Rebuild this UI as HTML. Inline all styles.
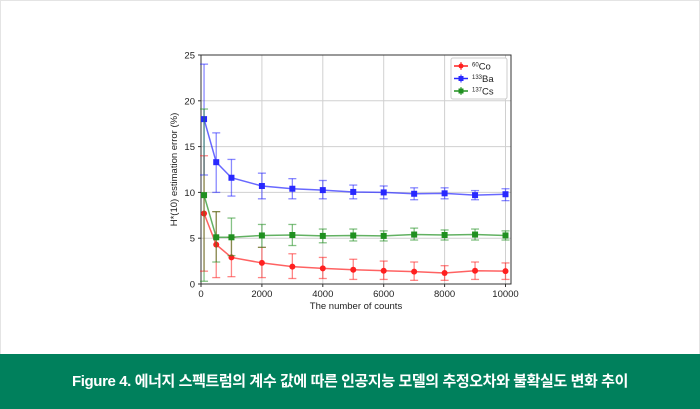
<!DOCTYPE html>
<html><head><meta charset="utf-8"><style>
body{margin:0;width:700px;height:409px;overflow:hidden;background:#fff;font-family:"Liberation Sans","DejaVu Sans",sans-serif}
#frame{position:absolute;left:0;top:0;width:698px;height:354px;border:1px solid #e4e4e4;border-bottom:none;background:#fff}
#cap{position:absolute;left:0;top:354px;width:700px;height:55px;background:#00805c;color:#fff;font:bold 15px "Liberation Sans","Noto Sans CJK KR",sans-serif;text-align:center;line-height:55px;letter-spacing:-0.4px}
svg{position:absolute;left:0;top:0}
</style></head><body>
<div id="frame"></div>
<svg id="chart" width="700" height="354"></svg>
<div id="cap">Figure 4. 에너지 스펙트럼의 계수 값에 따른 인공지능 모델의 추정오차와 불확실도 변화 추이</div>
<script>
const counts=[100,500,1000,2000,3000,4000,5000,6000,7000,8000,9000,10000];
const coVal=[7.7,4.3,2.9,2.3,1.9,1.7,1.55,1.45,1.35,1.2,1.45,1.4];
const coLo=[1.4,0.7,0.8,0.7,0.6,0.6,0.5,0.5,0.4,0.4,0.5,0.5];
const coHi=[14,7.9,5.1,4.0,3.3,2.9,2.7,2.5,2.4,2.0,2.4,2.3];
const baVal=[18,13.3,11.6,10.7,10.4,10.25,10.05,10,9.85,9.9,9.7,9.8];
const baLo=[11.9,10,9.6,9.3,9.3,9.3,9.3,9.3,9.2,9.3,9.2,9.1];
const baHi=[24,16.5,13.6,12.1,11.5,11.3,10.8,10.7,10.5,10.5,10.2,10.4];
const csVal=[9.7,5.1,5.1,5.3,5.35,5.25,5.3,5.25,5.4,5.35,5.4,5.3];
const csLo=[0.3,2.4,3.1,4.0,4.2,4.5,4.7,4.7,4.8,4.8,4.8,4.8];
const csHi=[19.1,7.9,7.2,6.5,6.5,6.0,6.0,5.8,6.1,5.9,6.0,5.8];
const xTicks=[0,2000,4000,6000,8000,10000];
const yTicks=[0,5,10,15,20,25];
const L=201,R=511,T=55,B=284;
const xs=v=>L+v/10000*(505.5-L);
const ys=v=>B-v/25*(B-T);
const svg=document.getElementById('chart');
const NS='http://www.w3.org/2000/svg';
function mk(tag,at,parent){const e=document.createElementNS(NS,tag);for(const k in at)e.setAttribute(k,at[k]);(parent||svg).appendChild(e);return e;}
xTicks.forEach(t=>{
 const g=mk('line',{x1:xs(t),x2:xs(t),y1:T,y2:B,stroke:'#d0d0d0','stroke-width':1});
 
 
 const tl=mk('text',{x:xs(t),y:B+13,'text-anchor':'middle','font-size':9.5,fill:'#222'});tl.textContent=t;
 
 
 mk('line',{x1:xs(t),x2:xs(t),y1:B,y2:B+3,stroke:'#333'});
});
yTicks.forEach(t=>{
 const g=mk('line',{x1:L,x2:R,y1:ys(t),y2:ys(t),stroke:'#d0d0d0','stroke-width':1});
 
 
 const tl=mk('text',{x:L-6,y:ys(t)+3.5,'text-anchor':'end','font-size':9.5,fill:'#222'});tl.textContent=t;
 
 
 mk('line',{x1:L-3,x2:L,y1:ys(t),y2:ys(t),stroke:'#333'});
});
const box=mk('rect',{x:L,y:T,width:R-L,height:B-T,fill:'none',stroke:'#333','stroke-width':1});


const xt=mk('text',{x:(L+R)/2,y:309,'text-anchor':'middle','font-size':9.5,fill:'#222'});xt.textContent='The number of counts';


const yt=mk('text',{x:0,y:0,'text-anchor':'middle','font-size':9.5,fill:'#222',transform:`translate(177,${(T+B)/2}) rotate(-90)`});yt.textContent='H*(10) estimation error (%)';


function series(vals,lo,hi,color,name,square){
 const g=mk('g',{});
 
 
 counts.forEach((c,i)=>{
  const x=xs(c);
  mk('line',{x1:x,x2:x,y1:ys(lo[i]),y2:ys(hi[i]),stroke:color,'stroke-opacity':0.55,'stroke-width':1.3},g);
  mk('line',{x1:x-4,x2:x+4,y1:ys(lo[i]),y2:ys(lo[i]),stroke:color,'stroke-opacity':0.55,'stroke-width':1.3},g);
  mk('line',{x1:x-4,x2:x+4,y1:ys(hi[i]),y2:ys(hi[i]),stroke:color,'stroke-opacity':0.55,'stroke-width':1.3},g);
 });
 mk('polyline',{points:counts.map((c,i)=>xs(c)+','+ys(vals[i])).join(' '),fill:'none',stroke:color,'stroke-opacity':0.7,'stroke-width':1.5},g);
 counts.forEach((c,i)=>{
  const m=square?mk('rect',{x:xs(c)-3,y:ys(vals[i])-3,width:6,height:6,fill:color},g):mk('circle',{cx:xs(c),cy:ys(vals[i]),r:3,fill:color},g);
  
  
 });
}
series(coVal,coLo,coHi,'#ff2020','co60',false);
series(baVal,baLo,baHi,'#2828ff','ba133',true);
series(csVal,csLo,csHi,'#209020','cs137',true);
const lg=mk('g',{});


mk('rect',{x:451,y:58,width:56,height:41,fill:'#fff',stroke:'#ccc',rx:2},lg);
[['#ff2020','60','Co',false],['#2828ff','133','Ba',true],['#209020','137','Cs',true]].forEach((e,i)=>{
 const y=66+i*12.5;
 mk('line',{x1:454,x2:468,y1:y,y2:y,stroke:e[0],'stroke-width':1.5},lg);
 mk('line',{x1:461,x2:461,y1:y-4,y2:y+4,stroke:e[0],'stroke-width':1},lg);
 if(e[3])mk('rect',{x:458.5,y:y-2.5,width:5,height:5,fill:e[0]},lg);else mk('circle',{cx:461,cy:y,r:2.5,fill:e[0]},lg);
 const t=mk('text',{x:472,y:y+3.5,'font-size':9.5,fill:'#222'},lg);
 t.innerHTML=`<tspan font-size="6" dy="-3">${e[1]}</tspan><tspan dy="3">${e[2]}</tspan>`;
 
 
});
</script>
</body></html>
